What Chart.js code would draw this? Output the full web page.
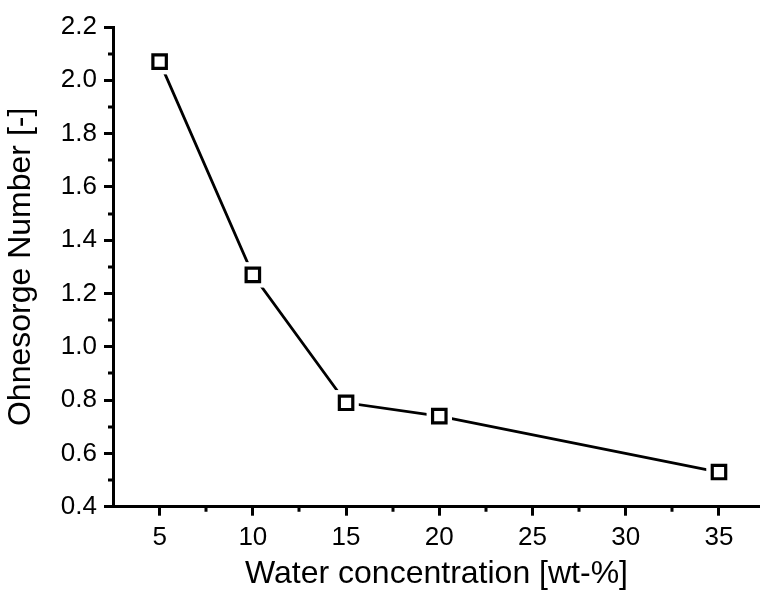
<!DOCTYPE html>
<html>
<head>
<meta charset="utf-8">
<script src="https://cdn.jsdelivr.net/npm/chart.js@4.4.1/dist/chart.umd.min.js"></script>
<style>
  html, body { margin: 0; padding: 0; background: #fff; }
  #wrap { width: 760px; height: 601px; position: relative; }
</style>
</head>
<body>
<div id="wrap"><canvas id="c" width="760" height="601"></canvas></div>
<script>
// ---- data ----
const waterConcentration = [5, 10, 15, 20, 35];
const ohnesorgeNumber = [2.07, 1.27, 0.79, 0.74, 0.53];

const xTickValues = [5, 10, 15, 20, 25, 30, 35];
const xTickLabels = ['5', '10', '15', '20', '25', '30', '35'];
const xMinorTicks = [7.5, 12.5, 17.5, 22.5, 27.5, 32.5];

const yTickValues = [0.4, 0.6, 0.8, 1.0, 1.2, 1.4, 1.6, 1.8, 2.0, 2.2];
const yTickLabels = ['0.4', '0.6', '0.8', '1.0', '1.2', '1.4', '1.6', '1.8', '2.0', '2.2'];
const yMinorTicks = [0.5, 0.7, 0.9, 1.1, 1.3, 1.5, 1.7, 1.9, 2.1];

const xTitle = 'Water concentration [wt-%]';
const yTitle = 'Ohnesorge Number [-]';

const points = waterConcentration.map((x, i) => ({ x: x, y: ohnesorgeNumber[i] }));

const FONT = '"Liberation Sans", Arial, sans-serif';

const minorTicksPlugin = {
  id: 'minorTicks',
  afterDraw(chart) {
    const ctx = chart.ctx;
    const xs = chart.scales.x, ys = chart.scales.y;
    const area = chart.chartArea;
    ctx.save();
    ctx.strokeStyle = '#000';
    ctx.lineWidth = 3;
    ctx.lineCap = 'butt';
    ctx.beginPath();
    xMinorTicks.forEach(v => {
      const px = Math.round(xs.getPixelForValue(v));
      ctx.moveTo(px, area.bottom);
      ctx.lineTo(px, area.bottom + 5);
    });
    yMinorTicks.forEach(v => {
      const py = Math.round(ys.getPixelForValue(v));
      ctx.moveTo(area.left, py);
      ctx.lineTo(area.left - 5, py);
    });
    ctx.stroke();
    ctx.restore();
  }
};

new Chart(document.getElementById('c'), {
  type: 'scatter',
  data: {
    datasets: [
      {
        label: 'markers',
        data: points,
        showLine: false,
        pointStyle: 'rect',
        pointRadius: 9.5,
        pointHoverRadius: 9.5,
        pointBackgroundColor: '#fff',
        pointBorderColor: '#000',
        pointBorderWidth: 3.2,
        order: 0,
        clip: false
      },
      {
        label: 'gap',
        data: points,
        showLine: false,
        pointStyle: 'rect',
        pointRadius: 18,
        pointHoverRadius: 18,
        pointBackgroundColor: '#fff',
        pointBorderColor: '#fff',
        pointBorderWidth: 0,
        order: 1,
        clip: false
      },
      {
        label: 'line',
        data: points,
        showLine: true,
        borderColor: '#000',
        borderWidth: 2.8,
        pointRadius: 0,
        pointHoverRadius: 0,
        tension: 0,
        order: 2,
        clip: false
      }
    ]
  },
  options: {
    responsive: false,
    animation: false,
    events: [],
    layout: { autoPadding: false, padding: { top: 27, right: 0, left: 0, bottom: 0 } },
    plugins: {
      legend: { display: false },
      tooltip: { enabled: false },
      title: { display: false }
    },
    scales: {
      x: {
        type: 'linear',
        min: 2.5,
        max: 37.2,
        afterBuildTicks(scale) { scale.ticks = xTickValues.map(v => ({ value: v })); },
        afterFit(scale) { scale.height = 94.3; scale.paddingRight = 0; scale.paddingLeft = 0; },
        ticks: {
          color: '#000',
          font: { family: FONT, size: 26 },
          padding: 7,
          maxRotation: 0,
          autoSkip: false,
          callback: (v) => { const i = xTickValues.indexOf(v); return i >= 0 ? xTickLabels[i] : ''; }
        },
        grid: {
          drawOnChartArea: false,
          drawTicks: true,
          tickLength: 9,
          tickWidth: 3,
          tickColor: '#000',
          color: '#000'
        },
        border: { display: true, color: '#000', width: 3 },
        title: {
          display: true,
          text: xTitle,
          color: '#000',
          font: { family: FONT, size: 32 },
          padding: { top: 0, bottom: 8 }
        }
      },
      y: {
        type: 'linear',
        min: 0.4,
        max: 2.2,
        afterBuildTicks(scale) { scale.ticks = yTickValues.map(v => ({ value: v })); },
        afterFit(scale) { scale.width = 113; },
        ticks: {
          color: '#000',
          font: { family: FONT, size: 26 },
          padding: 7,
          autoSkip: false,
          callback: (v) => {
            const i = yTickValues.findIndex(t => Math.abs(t - v) < 1e-9);
            return i >= 0 ? yTickLabels[i] : '';
          }
        },
        grid: {
          drawOnChartArea: false,
          drawTicks: true,
          tickLength: 9,
          tickWidth: 3,
          tickColor: '#000',
          color: '#000'
        },
        border: { display: true, color: '#000', width: 3 },
        title: {
          display: true,
          text: yTitle,
          color: '#000',
          font: { family: FONT, size: 32 },
          padding: { top: 2, bottom: 0 }
        }
      }
    }
  },
  plugins: [minorTicksPlugin]
});
</script>
</body>
</html>
